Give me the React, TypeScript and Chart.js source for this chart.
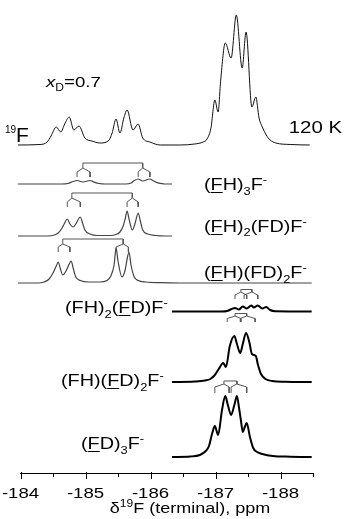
import React, { useEffect, useRef } from 'react';
import { Chart, registerables } from 'chart.js';

Chart.register(...registerables);

// ---------- data (chemical shift in ppm, intensity in arbitrary units) ----------
const TOP_PPM = [-183.96, -184.3, -184.41, -184.47, -184.55, -184.62, -184.68, -184.75, -184.82, -184.9, -184.99, -185.1, -185.22, -185.35, -185.41, -185.47, -185.53, -185.59, -185.64, -185.73, -185.81, -185.88, -185.99, -186.15, -186.45, -186.68, -186.81, -186.87, -186.93, -186.99, -187.04, -187.08, -187.15, -187.24, -187.32, -187.41, -187.47, -187.56, -187.62, -187.67, -187.72, -187.78, -187.84, -187.93, -188.15, -188.45];
const TOP_INT = [0, 0.5, 3, 9, 18, 13, 21, 28, 15, 19, 7, 4, 2, 4, 12, 26, 12, 27, 35, 15, 21, 7, 3, 0, 0, 1, 3, 6, 17, 45, 33, 65, 102, 87, 130, 77, 113, 38, 48, 27, 18, 10, 5, 2, 0.5, 0];

const FH3_PPM = [-183.96, -184.64, -184.73, -184.81, -184.87, -184.96, -185.07, -185.13, -185.21, -185.3, -185.62, -185.7, -185.75, -185.81, -185.88, -185.99, -186.05, -186.13, -186.22, -186.33];
const FH3_INT = [0, 0, 0.5, 2.5, 3.5, 2, 3.5, 2, 0.5, 0, 0, 1, 3.5, 5, 3, 5, 3, 0.8, 0, 0];

const FH2FD_PPM = [-183.96, -184.42, -184.52, -184.58, -184.64, -184.68, -184.72, -184.76, -184.81, -184.85, -184.92, -184.95, -184.99, -185.07, -185.18, -185.38, -185.47, -185.53, -185.58, -185.61, -185.64, -185.67, -185.72, -185.76, -185.81, -185.84, -185.88, -185.96, -186.08, -186.22, -186.33];
const FH2FD_INT = [0, 0, 1, 3, 8, 13, 17, 12, 9, 12, 19, 14, 6, 2, 0.5, 0.5, 1.5, 4, 10, 17, 25, 17, 6, 12, 23, 16, 6, 2, 0.5, 0, 0];

const FHFD2_PPM = [-183.96, -184.27, -184.36, -184.44, -184.5, -184.55, -184.58, -184.61, -184.65, -184.7, -184.75, -184.78, -184.81, -184.85, -184.92, -185.04, -185.22, -185.33, -185.39, -185.44, -185.47, -185.5, -185.56, -185.61, -185.64, -185.67, -185.7, -185.75, -185.81, -185.93, -186.15, -186.45, -188.48];
const FHFD2_INT = [0, 0, 1, 4, 10, 17, 21, 15, 8, 12, 19, 22, 15, 6, 2.5, 1, 1, 2.5, 7, 18, 35, 22, 6, 13, 24, 31, 18, 6, 2.5, 1, 0.3, 0, 0];

const FH2FDd_PPM = [-186.33, -187.1, -187.19, -187.25, -187.3, -187.36, -187.42, -187.48, -187.55, -187.59, -187.65, -187.72, -187.78, -187.84, -187.92, -188.48];
const FH2FDd_INT = [0, 0, 0.8, 2.5, 3.5, 2, 5, 3, 6, 4, 6, 3, 4.5, 1.5, 0.3, 0];

const FHFD2d_PPM = [-186.33, -186.68, -186.84, -186.92, -186.99, -187.05, -187.12, -187.16, -187.22, -187.29, -187.33, -187.38, -187.42, -187.47, -187.52, -187.56, -187.62, -187.65, -187.7, -187.77, -187.87, -188.07, -188.48];
const FHFD2d_INT = [0, 0.5, 1.5, 3, 7, 13, 19, 15, 36, 46, 38, 29, 38, 49, 40, 28, 26, 18, 8, 3, 1, 0.3, 0];

const FD3_PPM = [-186.33, -186.61, -186.76, -186.85, -186.9, -186.95, -186.99, -187.04, -187.1, -187.15, -187.19, -187.24, -187.29, -187.33, -187.36, -187.39, -187.42, -187.45, -187.48, -187.53, -187.58, -187.64, -187.72, -187.88, -188.15, -188.48];
const FD3_INT = [0, 0.5, 2, 6, 11, 24, 31, 22, 47, 61, 52, 42, 52, 61, 50, 37, 25, 30, 34, 20, 9, 5, 3, 1, 0.3, 0];

// vertical offsets of each stacked trace
const OFFSETS = [328, 289, 237, 190, 161.5, 91, 16];

// coupling trees: bar ends (ppm), leg pairs (ppm), levels (intensity units)
const TREE_BARS = [[-184.96, -185.88], [-184.79, -185.72], [-184.65, -185.58], [-187.39, -187.56], [-187.3, -187.48], [-187.13, -187.33]];
const TREE_LEGS = [
  [[-184.87, -185.07], [-185.81, -185.99]],
  [[-184.72, -184.92], [-185.64, -185.81]],
  [[-184.58, -184.76], [-185.47, -185.66]],
  [[-187.3, -187.48], [-187.44, -187.65]],
  [[-187.18, -187.39], [-187.38, -187.61]],
  [[-186.99, -187.21], [-187.24, -187.48]],
];
const TREE_LEVELS = [
  [310, 305, 301, 296],
  [280, 275, 271, 266],
  [234, 229, 226, 221],
  [183.5, 181, 178, 174],
  [159.5, 157, 154.5, 151],
  [92, 89, 86, 80],
];

const MAJOR_TICKS = [-184, -185, -186, -187, -188];
const MAJOR_LABELS = ['-184', '-185', '-186', '-187', '-188'];
const MINOR_TICKS = [-184.5, -185.5, -186.5, -187.5, -188.5];

type Seg = { t: string; sub?: boolean; sup?: boolean; u?: boolean; it?: boolean; size?: number; dy?: number };

const LABELS: Seg[][] = [
  [{ t: '(' }, { t: 'F', u: true }, { t: 'H)' }, { t: '3', sub: true }, { t: 'F' }, { t: '-', sup: true }],
  [{ t: '(' }, { t: 'F', u: true }, { t: 'H)' }, { t: '2', sub: true }, { t: '(FD)F' }, { t: '-', sup: true }],
  [{ t: '(' }, { t: 'F', u: true }, { t: 'H)(FD)' }, { t: '2', sub: true }, { t: 'F' }, { t: '-', sup: true }],
  [{ t: '(FH)' }, { t: '2', sub: true }, { t: '(' }, { t: 'F', u: true }, { t: 'D)F' }, { t: '-', sup: true }],
  [{ t: '(FH)(' }, { t: 'F', u: true }, { t: 'D)' }, { t: '2', sub: true }, { t: 'F' }, { t: '-', sup: true }],
  [{ t: '(' }, { t: 'F', u: true }, { t: 'D)' }, { t: '3', sub: true }, { t: 'F' }, { t: '-', sup: true }],
];
const LABEL_POS = [
  [204, 190], [204, 231.5], [204, 278], [65, 313], [61, 386], [81, 449],
];

const FAMILY = '"Liberation Sans", Arial, Helvetica, sans-serif';
const SX = 1.2;

function drawRich(ctx: CanvasRenderingContext2D, segs: Seg[], x: number, y: number, fs: number, align: 'left' | 'center' | 'right', sx: number) {
  const fontOf = (s: Seg) => {
    const size = s.size ?? (s.sub || s.sup ? fs * 0.65 : fs);
    return `${s.it ? 'italic ' : ''}${size}px ${FAMILY}`;
  };
  const widths = segs.map((s) => {
    ctx.font = fontOf(s);
    return ctx.measureText(s.t).width * sx;
  });
  const total = widths.reduce((a, b) => a + b, 0);
  let cx = align === 'left' ? x : align === 'center' ? x - total / 2 : x - total;
  segs.forEach((s, i) => {
    const dy = s.dy ?? (s.sub ? fs * 0.28 : s.sup ? -fs * 0.42 : 0);
    ctx.save();
    ctx.font = fontOf(s);
    ctx.translate(cx, y + dy);
    ctx.scale(sx, 1);
    ctx.fillText(s.t, 0, 0);
    ctx.restore();
    if (s.u) {
      ctx.save();
      ctx.lineWidth = 1;
      ctx.beginPath();
      ctx.moveTo(cx, Math.round(y + 2) + 0.5);
      ctx.lineTo(cx + widths[i], Math.round(y + 2) + 0.5);
      ctx.stroke();
      ctx.restore();
    }
    cx += widths[i];
  });
}

const textPlugin = {
  id: 'nmrText',
  afterDraw(chart: any) {
    const ctx: CanvasRenderingContext2D = chart.ctx;
    const xs = chart.scales.x;
    const area = chart.chartArea;
    ctx.save();
    ctx.fillStyle = '#000';
    ctx.strokeStyle = '#000';
    ctx.textBaseline = 'alphabetic';
    ctx.lineWidth = 1;
    MAJOR_TICKS.forEach((v, i) => {
      const px = Math.round(xs.getPixelForValue(v)) + 0.5;
      ctx.beginPath();
      ctx.moveTo(px, area.bottom - 1);
      ctx.lineTo(px, area.bottom + 6);
      ctx.stroke();
      drawRich(ctx, [{ t: MAJOR_LABELS[i] }], xs.getPixelForValue(v), area.bottom + 24.5, 15.5, 'center', SX);
    });
    MINOR_TICKS.forEach((v) => {
      const px = Math.round(xs.getPixelForValue(v)) + 0.5;
      ctx.beginPath();
      ctx.moveTo(px, area.bottom);
      ctx.lineTo(px, area.bottom + 4);
      ctx.stroke();
    });
    // axis title
    drawRich(ctx, [{ t: 'δ' }, { t: '19', size: 10, dy: -6 }, { t: 'F (terminal), ppm' }], 190, area.bottom + 39.5, 15, 'center', SX);
    // annotations
    drawRich(ctx, [{ t: 'x', it: true }, { t: 'D', sub: true }, { t: '=0.7' }], 46, 87, 15.5, 'left', SX);
    drawRich(ctx, [{ t: '19', size: 10, dy: -9 }, { t: 'F', size: 21 }], 5, 142, 21, 'left', 1);
    drawRich(ctx, [{ t: '120 K' }], 342, 133, 17, 'right', SX);
    LABELS.forEach((segs, i) => {
      drawRich(ctx, segs, LABEL_POS[i][0], LABEL_POS[i][1], 16.5, 'left', SX);
    });
    ctx.restore();
  },
};

function spectrum(ppm: number[], inten: number[], off: number, color: string, width: number) {
  return {
    data: ppm.map((p, i) => ({ x: p, y: off + inten[i] })),
    borderColor: color,
    borderWidth: width,
    pointRadius: 0,
    cubicInterpolationMode: 'monotone' as const,
    fill: false,
    clip: false as const,
  };
}

function tree(k: number) {
  const [L, R] = TREE_BARS[k];
  const [yBar, yStem, yLeg, yBot] = TREE_LEVELS[k];
  const pts: { x: number; y: number | null }[] = [
    { x: L, y: yStem }, { x: L, y: yBar }, { x: R, y: yBar }, { x: R, y: yStem }, { x: R, y: null },
  ];
  [L, R].forEach((E, j) => {
    const [a, b] = TREE_LEGS[k][j];
    pts.push({ x: a, y: yBot }, { x: a, y: yLeg }, { x: E, y: yStem }, { x: b, y: yLeg }, { x: b, y: yBot }, { x: b, y: null });
  });
  return {
    data: pts,
    borderColor: '#555',
    borderWidth: 1,
    pointRadius: 0,
    tension: 0,
    spanGaps: false,
    fill: false,
    clip: false as const,
  };
}

export default function App() {
  const ref = useRef<HTMLCanvasElement>(null);
  useEffect(() => {
    if (!ref.current) return;
    const datasets: any[] = [
      spectrum(TOP_PPM, TOP_INT, OFFSETS[0], '#111', 1),
      spectrum(FH3_PPM, FH3_INT, OFFSETS[1], '#444', 1.2),
      spectrum(FH2FD_PPM, FH2FD_INT, OFFSETS[2], '#444', 1.2),
      spectrum(FHFD2_PPM, FHFD2_INT, OFFSETS[3], '#444', 1.2),
      spectrum(FH2FDd_PPM, FH2FDd_INT, OFFSETS[4], '#000', 2),
      spectrum(FHFD2d_PPM, FHFD2d_INT, OFFSETS[5], '#000', 2),
      spectrum(FD3_PPM, FD3_INT, OFFSETS[6], '#000', 2),
      ...TREE_BARS.map((_, k) => tree(k)),
    ];
    const chart = new Chart(ref.current, {
      type: 'line',
      data: { datasets },
      options: {
        animation: false,
        responsive: false,
        devicePixelRatio: 1,
        events: [],
        layout: { padding: { left: 20.5, right: 32, top: 0, bottom: 46 } },
        plugins: { legend: { display: false }, tooltip: { enabled: false } },
        scales: {
          x: {
            type: 'linear',
            reverse: true,
            min: -188.5,
            max: -184,
            ticks: { display: false },
            grid: { display: false, drawTicks: false },
            border: { display: true, color: '#000', width: 1 },
          },
          y: {
            type: 'linear',
            min: 0,
            max: 473,
            display: false,
          },
        },
      },
      plugins: [textPlugin],
    });
    return () => chart.destroy();
  }, []);
  return (
    <div style={{ position: 'fixed', left: 0, top: 0, width: 345, height: 519, background: '#fff' }}>
      <canvas ref={ref} width={345} height={519} style={{ display: 'block' }} />
    </div>
  );
}
